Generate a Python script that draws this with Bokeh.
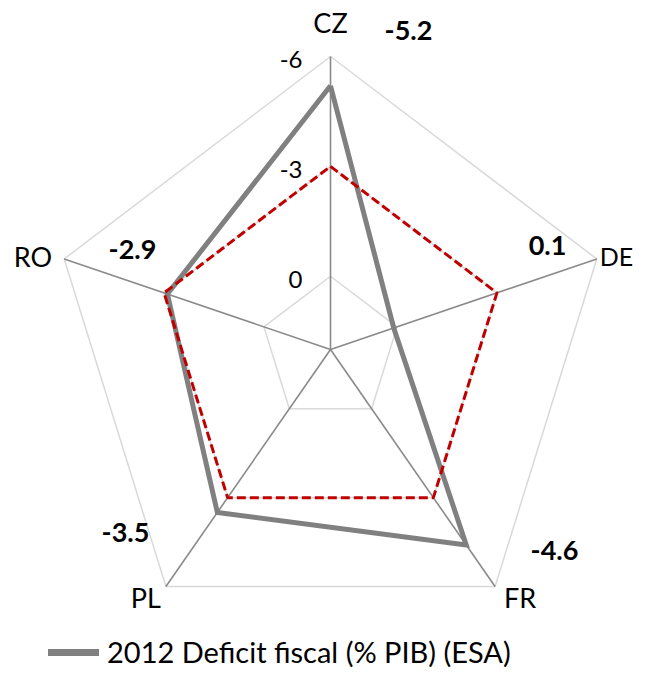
import numpy as np
from bokeh.plotting import figure
from bokeh.models import Legend, LegendItem, Range1d
from bokeh.core.properties import value
from bokeh.embed import file_html
from bokeh.resources import INLINE

# ---- data ----
categories = ["CZ", "DE", "FR", "PL", "RO"]
deficit_2012 = [-5.2, 0.1, -4.6, -3.5, -2.9]
threshold = [-3.0, -3.0, -3.0, -3.0, -3.0]
value_labels = ["-5.2", "0.1", "-4.6", "-3.5", "-2.9"]
tick_values = [0, -3, -6]
tick_labels = ["0", "-3", "-6"]
axis_center = 2.0   # value at the centre of the radar
axis_outer = -6.0   # value at the outer ring
series_name = "2012 Deficit fiscal (% PIB) (ESA)"

# ---- layout ----
W, H = 645, 677
CX, CY = 330, 349          # centre (px from left / top of frame)
RX, RY = 280, 293          # radius of outer ring in px
FONT = "Lato"

angles = np.deg2rad(90 - 72 * np.arange(len(categories)))


def pol(vals):
    rn = (axis_center - np.asarray(vals, float)) / (axis_center - axis_outer)
    return rn * np.cos(angles) * RX, rn * np.sin(angles) * RY


def closed(a):
    return list(a) + [a[0]]


p = figure(width=W, height=H, output_backend="svg", toolbar_location=None,
           x_range=Range1d(-CX, W - CX), y_range=Range1d(-(H - CY), CY),
           min_border=0)
p.axis.visible = False
p.grid.visible = False
p.outline_line_color = None
p.background_fill_color = "white"
p.border_fill_color = "white"

# rings
for tv in tick_values:
    gx, gy = pol([tv] * len(categories))
    p.line(closed(gx), closed(gy), line_color="#D9D9D9", line_width=1.5)

# spokes
ox, oy = pol([axis_outer] * len(categories))
p.segment(x0=[0] * 5, y0=[0] * 5, x1=ox, y1=oy, line_color="#8A8A8A", line_width=1.6)

# series
sx, sy = pol(deficit_2012)
gray = p.line(closed(sx), closed(sy), line_color="#808080", line_width=5, line_join="miter")
tx, ty = pol(threshold)
p.line(closed(tx), closed(ty), line_color="#C00000", line_width=3, line_dash="9 4")

# tick labels on CZ axis
tkx = [-28] * len(tick_values)
tky = [pol([v] * 5)[1][0] - 3 for v in tick_values]
p.text(tkx, tky, text=tick_labels, text_align="right", text_baseline="middle",
       text_font=value(FONT), text_font_size="24px", text_color="#000000")

# category labels
cat_off = [(0, 34), (3, 3), (9, -11), (-5, -11), (-12, 2)]
cat_align = ["center", "left", "left", "right", "right"]
cat_size = ["27px", "25px", "27px", "27px", "27px"]
for i, c in enumerate(categories):
    p.text([ox[i] + cat_off[i][0]], [oy[i] + cat_off[i][1]], text=[c],
           text_align=cat_align[i], text_baseline="middle",
           text_font=value(FONT), text_font_size=cat_size[i], text_color="#000000")

# value labels (offsets from centre, px)
val_off = [(78, 319), (217, 104), (224, -201), (-205, -183), (-198, 100)]
p.text([o[0] for o in val_off], [o[1] for o in val_off], text=value_labels,
       text_align="center", text_baseline="middle", text_font=value(FONT),
       text_font_size="27px", text_font_style="bold", text_color="#000000")

# legend
leg_r = p.line([np.nan, np.nan], [np.nan, np.nan], line_color="#808080",
               line_width=7, line_cap="round")
legend = Legend(items=[LegendItem(label=series_name, renderers=[leg_r])],
                location=(48, 8), glyph_width=51, glyph_height=20, label_standoff=8,
                padding=0, margin=0, border_line_color=None, background_fill_alpha=0,
                label_text_font=FONT, label_text_font_size="29px",
                label_text_color="#000000")
p.add_layout(legend)

open("out.html", "w").write(file_html(p, INLINE))
